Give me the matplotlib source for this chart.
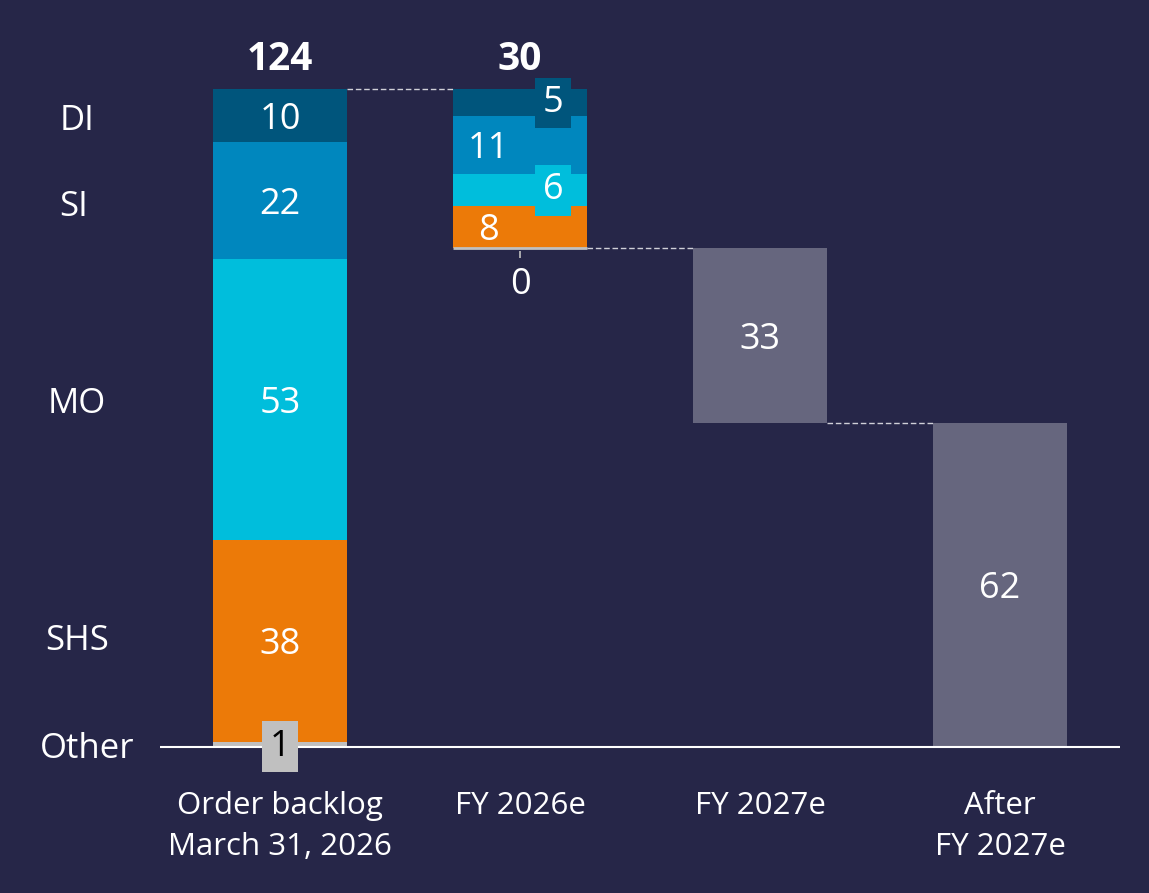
import matplotlib
matplotlib.use("Agg")
import matplotlib.pyplot as plt
import numpy as np

plt.rcParams['font.family'] = ['Open Sans', 'DejaVu Sans']

# ---- data ----
segments = ["Other", "SHS", "MO", "SI", "DI"]
backlog = [1, 38, 53, 22, 10]          # Order backlog March 31, 2026
fy2026 = [0, 8, 6, 11, 5]              # FY 2026e by segment
fy2026_total = 30
fy2027_total = 33
after_total = 62
backlog_total = 124
categories = ["Order backlog\nMarch 31, 2026", "FY 2026e", "FY 2027e", "After\nFY 2027e"]

# ---- style ----
BG = "#262648"
seg_colors = {"Other": "#c0c0c0", "SHS": "#ec7a08", "MO": "#00bedc",
              "SI": "#0087be", "DI": "#00557c"}
GREY = "#66667e"
W = 0.558
FS = 26
DY = -0.8   # visual centering shift for numbers
BOXPAD = 0.2
BOXDY = 0.7  # boxes sit slightly higher

fig = plt.figure(figsize=(11.49, 8.93), dpi=100, facecolor=BG)
ax = fig.add_axes([0, 0, 1, 1])
ax.set_facecolor(BG)
ax.set_xlim(-280 / 240, (1149 - 280) / 240)
ax.set_ylim(-146 / 5.306, 747 / 5.306)
ax.axis("off")

# bar 1: stacked backlog
bottom = 0
for seg, v in zip(segments, backlog):
    ax.bar(0, v, width=W, bottom=bottom, color=seg_colors[seg], linewidth=0)
    c = bottom + v / 2
    if seg == "Other":
        ax.text(0, 0.4 + DY + BOXDY * 0.7, str(v), ha="center", va="center", fontsize=FS,
                color="black",
                bbox=dict(boxstyle=f"square,pad={BOXPAD}", fc=seg_colors[seg], ec="none"))
    else:
        ax.text(0, c + DY, str(v), ha="center", va="center", fontsize=FS, color="white")
    bottom += v

# bar 2: FY 2026e stacked, hanging from the top
b2_bottom = backlog_total - fy2026_total
bottom = b2_bottom
for seg, v in zip(segments, fy2026):
    if v == 0:
        ax.hlines(bottom, 1 - W / 2, 1 + W / 2, color=seg_colors[seg], lw=2)
        ax.vlines(1, bottom - 0.6, bottom - 1.9, color="#c0c0c0", lw=1.2)
        ax.text(1, bottom - 6.2 + DY, str(v), ha="center", va="center", fontsize=FS, color="white")
        continue
    ax.bar(1, v, width=W, bottom=bottom, color=seg_colors[seg], linewidth=0)
    c = bottom + v / 2
    if seg in ("MO", "DI"):
        ax.text(1.1375, c + DY + BOXDY, str(v), ha="center", va="center", fontsize=FS,
                color="white",
                bbox=dict(boxstyle=f"square,pad={BOXPAD}", fc=seg_colors[seg], ec="none"))
    else:
        ax.text(0.867, c + DY, str(v), ha="center", va="center", fontsize=FS, color="white")
    bottom += v

# bar 3: FY 2027e
b3_bottom = b2_bottom - fy2027_total
ax.bar(2, fy2027_total, width=W, bottom=b3_bottom, color=GREY, linewidth=0)
ax.text(2, b3_bottom + fy2027_total / 2 + DY, str(fy2027_total), ha="center", va="center",
        fontsize=FS, color="white")

# bar 4: After FY 2027e
after_h = b3_bottom
ax.bar(3, after_h, width=W, bottom=0, color=GREY, linewidth=0)
ax.text(3, after_h / 2 + DY, str(after_total), ha="center", va="center", fontsize=FS, color="white")

# connectors
dash = dict(color="#d0d0d8", lw=1, linestyles=(0, (4, 2)))
ax.hlines(backlog_total, 0 + W / 2, 1 - W / 2, **dash)
ax.hlines(b2_bottom, 1 + W / 2, 2 - W / 2, **dash)
ax.hlines(b3_bottom, 2 + W / 2, 3 - W / 2, **dash)

# totals
for x, t in [(0, backlog_total), (1, fy2026_total)]:
    ax.text(x, backlog_total + 6.3 + DY, str(t), ha="center", va="center",
            fontsize=28, fontweight="bold", color="white")

# baseline
ax.hlines(0, -0.5, 3.5, color="white", lw=1.5)

# left segment labels
left_x = {"Other": -0.805, "SHS": -0.845, "MO": -0.845, "SI": -0.86, "DI": -0.845}
left_y = {"Other": 0.5, "SHS": 20.8, "MO": 65.5, "SI": 102.5, "DI": 118.7}
for seg in segments:
    ax.text(left_x[seg], left_y[seg] + DY, seg, ha="center", va="center", fontsize=25, color="white")

# category labels
for i, cat in enumerate(categories):
    ax.text(i, -8.2, cat, ha="center", va="top", fontsize=22.5, color="white", linespacing=1.52)

fig.savefig("out.png", dpi=100, facecolor=BG)
